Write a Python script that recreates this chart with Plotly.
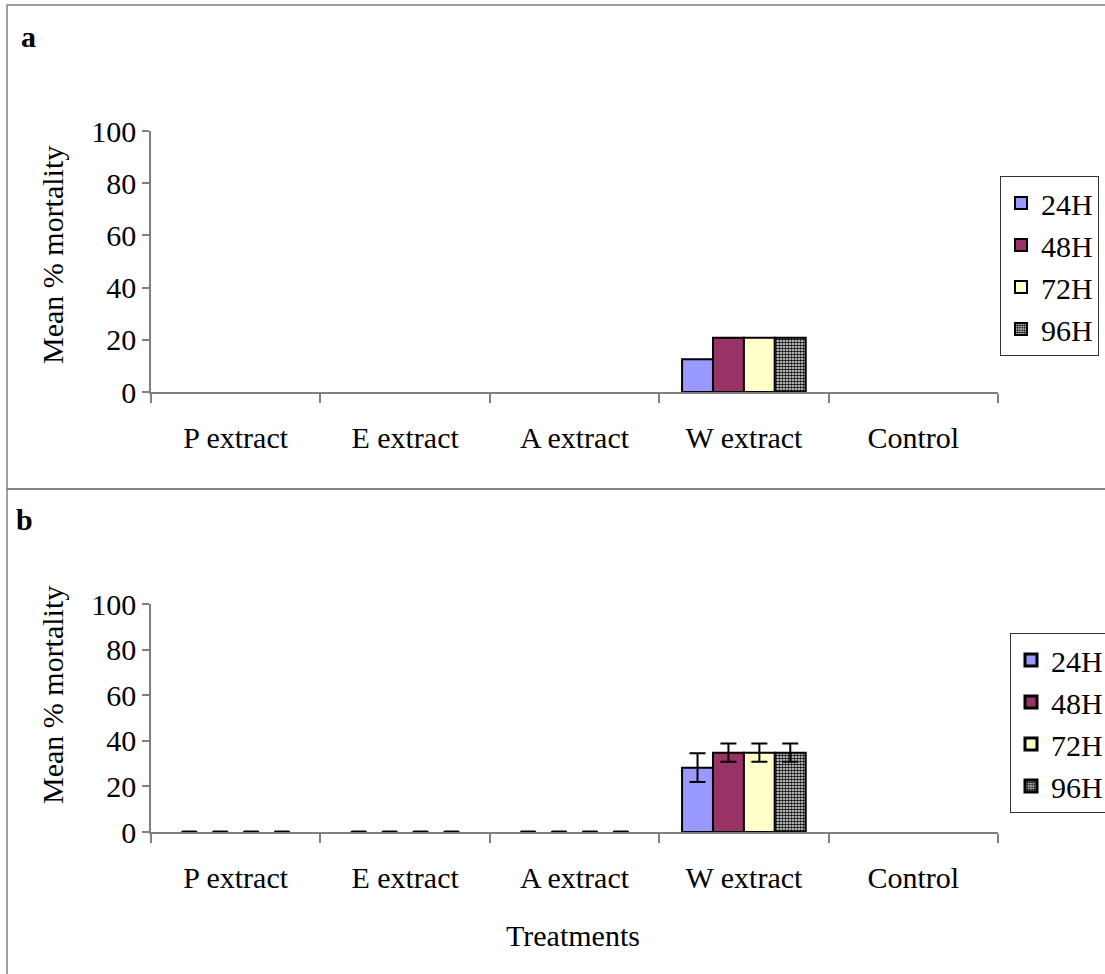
import plotly.graph_objects as go

# Treatments on the x axis and exposure times in the legend
treatments = ["P extract", "E extract", "A extract", "W extract", "Control"]
hours = ["24H", "48H", "72H", "96H"]

# Panel a: mean % mortality (None = no bar drawn)
mort_a = {
    "24H": [None, None, None, 12.5, None],
    "48H": [None, None, None, 20.8, None],
    "72H": [None, None, None, 20.8, None],
    "96H": [None, None, None, 20.8, None],
}

# Panel b: mean % mortality with standard errors
mort_b = {
    "24H": [0, 0, 0, 28.2, None],
    "48H": [0, 0, 0, 34.8, None],
    "72H": [0, 0, 0, 34.8, None],
    "96H": [0, 0, 0, 34.8, None],
}
err_b = {
    "24H": [0, 0, 0, 6.3, 0],
    "48H": [0, 0, 0, 4.0, 0],
    "72H": [0, 0, 0, 4.0, 0],
    "96H": [0, 0, 0, 4.0, 0],
}

FONT = "Liberation Serif"
FS = 30
fills = {"24H": "#9999FF", "48H": "#993366", "72H": "#FFFFCC", "96H": "#FFFFFF"}

def marker_for(h, line_width=2):
    m = dict(color=fills[h], line=dict(color="black", width=line_width))
    if h == "96H":
        m["pattern"] = dict(shape=".", fgcolor="black", bgcolor="white",
                            size=3, solidity=0.6, fillmode="replace")
    return m

fig = go.Figure()

for h in hours:
    fig.add_trace(go.Bar(
        x=treatments, y=mort_a[h], name=h, marker=marker_for(h),
        xaxis="x", yaxis="y", legend="legend", legendgroup="a" + h,
    ))

for h in hours:
    vals = mort_b[h]
    # zero-height bars show only as short dashes on the axis
    widths = [0.085 if v == 0 else 0.1825 for v in vals]
    lws = [3 if v == 0 else 2 for v in vals]
    errs = [e if (v not in (None, 0)) else None for v, e in zip(vals, err_b[h])]
    fig.add_trace(go.Bar(
        x=treatments, y=vals, name=h, marker=marker_for(h, lws), width=widths,
        error_y=dict(type="data", array=errs, color="black", thickness=2, width=8, visible=True),
        xaxis="x2", yaxis="y2", legend="legend2", legendgroup="b" + h,
    ))

W, H = 1105, 974
def px_x(v):
    return v / W
def px_y(v):
    return 1 - v / H

axis_common = dict(
    showline=True, linecolor="#808080", linewidth=1.5,
    ticks="outside", tickcolor="#808080", tickwidth=1.5,
    showgrid=False, zeroline=False, automargin=False,
    tickfont=dict(family=FONT, size=FS, color="black"),
)
xcommon = dict(axis_common, type="category", tickson="boundaries", ticklen=9,
               ticklabelstandoff=18, domain=[px_x(151), px_x(998)])
ycommon = dict(axis_common, range=[0, 100], dtick=20, ticklen=7, fixedrange=True)

legend_common = dict(
    font=dict(family=FONT, size=FS, color="black"),
    bgcolor="white", bordercolor="#333333", borderwidth=1,
    xanchor="left", yanchor="top", tracegroupgap=0,
)

def note(text, x, y, **kw):
    d = dict(text=text, x=px_x(x), y=px_y(y), xref="paper", yref="paper",
             xanchor="center", yanchor="middle", showarrow=False,
             font=dict(family=FONT, size=FS, color="black"))
    d.update(kw)
    return d

fig.update_layout(
    width=W, height=H,
    margin=dict(l=0, r=0, t=0, b=0, autoexpand=False),
    paper_bgcolor="white", plot_bgcolor="white",
    barmode="group", bargap=0.27, bargroupgap=0,
    xaxis=dict(xcommon, anchor="y"),
    yaxis=dict(ycommon, anchor="x", domain=[px_y(392), px_y(131)]),
    xaxis2=dict(xcommon, anchor="y2"),
    yaxis2=dict(ycommon, anchor="x2", domain=[px_y(832), px_y(604)]),
    legend=dict(legend_common, x=px_x(1000), y=px_y(176)),
    legend2=dict(legend_common, x=px_x(1010), y=px_y(633)),
    showlegend=True,
    shapes=[
        dict(type="rect", xref="paper", yref="paper",
             x0=px_x(7), x1=px_x(1112), y0=px_y(489), y1=px_y(5),
             line=dict(color="#808080", width=1.5)),
        dict(type="rect", xref="paper", yref="paper",
             x0=px_x(7), x1=px_x(1112), y0=px_y(985), y1=px_y(489),
             line=dict(color="#808080", width=1.5)),
    ],
    annotations=[
        note("<b>a</b>", 19, 37, xanchor="left"),
        note("<b>b</b>", 14, 519, xanchor="left"),
        note("Mean % mortality", 52, 255, textangle=-90),
        note("Mean % mortality", 52, 695, textangle=-90),
        note("Treatments", 573, 935),
    ],
)

fig.write_html("out.html")
